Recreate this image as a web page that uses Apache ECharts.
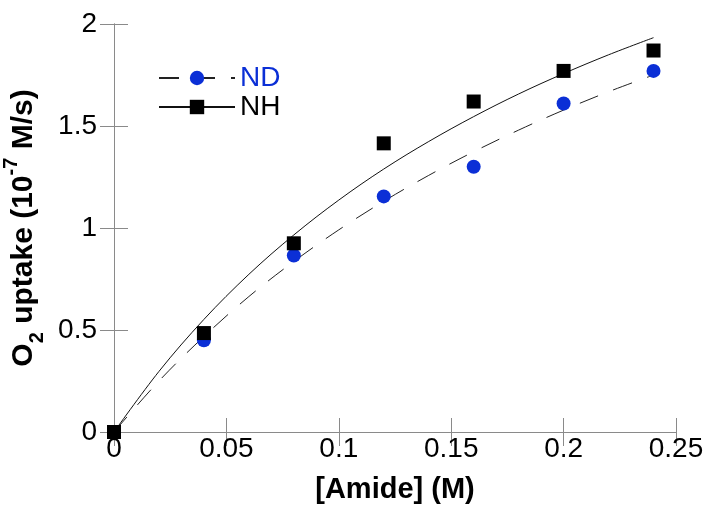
<!DOCTYPE html>
<html>
<head>
<meta charset="utf-8">
<script src="https://cdn.jsdelivr.net/npm/echarts@6/dist/echarts.min.js"></script>
<style>
html,body{margin:0;padding:0;background:#fff;}
#chart{width:714px;height:516px;}
</style>
</head>
<body>
<div id="chart"></div>
<script>
// Measured points
const amideX = [0, 0.04, 0.08, 0.12, 0.16, 0.20, 0.24];
const ndValues = [0, 0.45, 0.865, 1.155, 1.30, 1.61, 1.77];
const nhValues = [0, 0.485, 0.925, 1.415, 1.62, 1.77, 1.87];
// Fitted curves
const curveX = [0, 0.02, 0.04, 0.06, 0.08, 0.10, 0.12, 0.14, 0.16, 0.18, 0.20, 0.22, 0.24];
const ndCurve = [0, 0.25, 0.468, 0.664, 0.836, 0.991, 1.131, 1.258, 1.374, 1.48, 1.578, 1.668, 1.75];
const nhCurve = [0, 0.297, 0.552, 0.773, 0.966, 1.137, 1.289, 1.424, 1.546, 1.657, 1.757, 1.849, 1.933];

const FONT = 'Liberation Sans, Arial, Helvetica, sans-serif';
const BLUE = '#0b2fd6';
const AXIS = '#8a8a8a';

const pairs = (xs, ys) => xs.map((x, i) => [x, ys[i]]);

const chart = echarts.init(document.getElementById('chart'), null, {renderer: 'canvas'});
const baseX = {
  type: 'value', min: 0, max: 0.25, interval: 0.05,
  axisLine: {show: true, lineStyle: {color: AXIS, width: 1}},
  axisTick: {show: true, inside: true, length: 14, lineStyle: {color: AXIS, width: 1}},
  splitLine: {show: false}
};
const baseY = {
  type: 'value', min: 0, max: 2, interval: 0.5,
  axisLine: {show: true, lineStyle: {color: AXIS, width: 1}},
  axisTick: {show: true, inside: true, length: 14, lineStyle: {color: AXIS, width: 1}},
  splitLine: {show: false}
};

chart.setOption({
  animation: false,
  backgroundColor: '#fff',
  grid: {left: 114, right: 38, top: 24, bottom: 84, containLabel: false, outerBoundsMode: 'none'},
  legend: {
    orient: 'vertical',
    left: 153, top: 59,
    itemWidth: 76, itemHeight: 18, itemGap: 1,
    textStyle: {fontFamily: FONT, fontSize: 28, lineHeight: 28},
    data: [
      {name: 'ND', textStyle: {color: BLUE}},
      {name: 'NH', textStyle: {color: '#000'}}
    ]
  },
  xAxis: [
    Object.assign({}, baseX, {
      position: 'bottom',
      axisLabel: {
        color: '#000', fontFamily: FONT, fontSize: 28, margin: 3,
        formatter: v => String(+v.toFixed(2))
      },
      name: '[Amide] (M)',
      nameLocation: 'middle', nameGap: 43,
      nameTextStyle: {color: '#000', fontFamily: FONT, fontSize: 29, fontWeight: 'bold'}
    }),
    Object.assign({}, baseX, {position: 'top', axisLabel: {show: false}})
  ],
  yAxis: [
    Object.assign({}, baseY, {
      position: 'left',
      axisLabel: {
        color: '#000', fontFamily: FONT, fontSize: 28, margin: 17,
        formatter: v => String(+v.toFixed(1))
      },
      name: '{m|O}{s|2}{m| uptake (10}{p|-7}{m| M/s)}',
      nameLocation: 'middle', nameGap: 56, nameRotate: 90,
      nameTextStyle: {
        color: '#000',
        rich: {
          m: {fontFamily: FONT, fontSize: 30, fontWeight: 'bold', color: '#000', lineHeight: 46, verticalAlign: 'middle'},
          s: {fontFamily: FONT, fontSize: 20, fontWeight: 'bold', color: '#000', lineHeight: 20, verticalAlign: 'bottom'},
          p: {fontFamily: FONT, fontSize: 20, fontWeight: 'bold', color: '#000', lineHeight: 20, verticalAlign: 'top'}
        }
      }
    }),
    Object.assign({}, baseY, {position: 'right', axisLabel: {show: false}})
  ],
  series: [
    {
      name: 'ND', type: 'line', data: pairs(curveX, ndCurve), smooth: 0.35,
      showSymbol: false, symbol: 'circle', symbolSize: 14,
      itemStyle: {color: BLUE, opacity: 1},
      lineStyle: {color: '#222', width: 1, type: [20, 16]},
      silent: true, z: 2
    },
    {
      name: 'NH', type: 'line', data: pairs(curveX, nhCurve), smooth: 0.35,
      showSymbol: false, symbol: 'rect', symbolSize: 14,
      itemStyle: {color: '#000', opacity: 1},
      lineStyle: {color: '#111', width: 1, type: 'solid'},
      silent: true, z: 2
    },
    {
      name: 'ND pts', type: 'scatter', data: pairs(amideX, ndValues),
      symbol: 'circle', symbolSize: 14, itemStyle: {color: BLUE, opacity: 1}, clip: false, z: 3
    },
    {
      name: 'NH pts', type: 'scatter', data: pairs(amideX, nhValues),
      symbol: 'rect', symbolSize: 14, itemStyle: {color: '#000', opacity: 1}, clip: false, z: 4
    }
  ]
});
</script>
</body>
</html>
